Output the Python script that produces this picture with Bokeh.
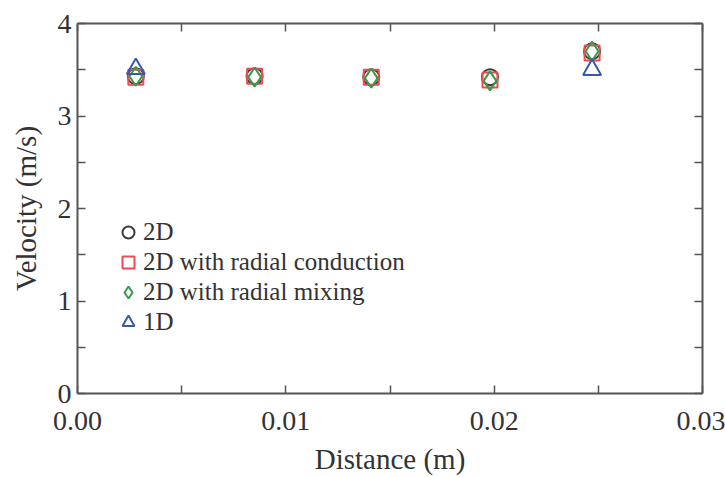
from bokeh.plotting import figure
from bokeh.models import (Range1d, FixedTicker, LinearAxis, PrintfTickFormatter,
                          Legend, LegendItem, CustomJSTickFormatter)
from bokeh.embed import file_html
from bokeh.resources import INLINE

# ---- data ----
distance = [0.0028, 0.0085, 0.0141, 0.0198, 0.0247]
v_2d = [3.43, 3.43, 3.42, 3.42, 3.70]
v_2d_cond = [3.42, 3.43, 3.42, 3.39, 3.68]
v_2d_mix = [3.43, 3.42, 3.41, 3.38, 3.70]
v_1d_dist = [0.0028, 0.0247]
v_1d_vals = [3.51, 3.50]

x_ticks = [0.0, 0.01, 0.02, 0.03]
x_minor = [0.005, 0.015, 0.025]
y_ticks = [0, 1, 2, 3, 4]
y_minor = [0.5, 1.5, 2.5, 3.5]

FONT = "Liberation Serif"
AX = "#555555"
TXT = "#333333"

p = figure(width=725, height=477, output_backend="svg", toolbar_location=None,
           x_range=Range1d(0, 0.03), y_range=Range1d(0, 4),
           min_border_left=77, min_border_right=23, min_border_top=23,
           min_border_bottom=79, x_axis_label="Distance (m)",
           y_axis_label="Velocity (m/s)")
p.grid.visible = False
p.outline_line_color = None
p.background_fill_color = "white"
p.border_fill_color = "white"

c_r = p.scatter(distance, v_2d, marker="circle", size=16, fill_color=None,
                line_color="#3c3c3c", line_width=2)
s_r = p.scatter(distance, v_2d_cond, marker="square", size=15, fill_color=None,
                line_color="#ee4b55", line_width=2)
d_r = p.scatter(distance, v_2d_mix, marker="diamond", size=19, fill_color=None,
                line_color="#3a9a48", line_width=2)
t_r = p.scatter(v_1d_dist, v_1d_vals, marker="triangle", size=18, fill_color=None,
                line_color="#3a58b0", line_width=2)

def style(ax):
    ax.axis_line_color = AX
    ax.axis_line_width = 2
    ax.major_tick_line_color = AX
    ax.minor_tick_line_color = AX
    ax.major_tick_line_width = 1.5
    ax.minor_tick_line_width = 1.5
    ax.major_tick_in = 8
    ax.major_tick_out = 0
    ax.minor_tick_in = 8
    ax.minor_tick_out = 0
    ax.major_label_text_font = FONT
    ax.major_label_text_color = TXT
    ax.axis_label_text_font = FONT
    ax.axis_label_text_font_style = "normal"
    ax.axis_label_text_color = TXT

xa = p.xaxis[0]
xa.ticker = FixedTicker(ticks=x_ticks, minor_ticks=x_minor)
xa.formatter = PrintfTickFormatter(format="%.2f")
style(xa)
xa.major_label_text_font_size = "28px"
xa.major_label_standoff = 18
xa.axis_label_text_font_size = "29px"
xa.axis_label_standoff = 10

ya = p.yaxis[0]
ya.ticker = FixedTicker(ticks=y_ticks, minor_ticks=y_minor)
style(ya)
ya.major_label_text_font_size = "28px"
ya.major_label_standoff = 6
ya.axis_label_text_font_size = "29px"
ya.axis_label_standoff = 13

blank = CustomJSTickFormatter(code="return '';")
top = LinearAxis(ticker=FixedTicker(ticks=x_ticks, minor_ticks=x_minor),
                 formatter=blank)
style(top)
top.major_label_standoff = 0
p.add_layout(top, "above")
right = LinearAxis(ticker=FixedTicker(ticks=y_ticks, minor_ticks=y_minor),
                   formatter=blank)
style(right)
right.major_label_standoff = 0
p.add_layout(right, "right")

legend = Legend(items=[
    LegendItem(label="2D", renderers=[c_r]),
    LegendItem(label="2D with radial conduction", renderers=[s_r]),
    LegendItem(label="2D with radial mixing", renderers=[d_r]),
    LegendItem(label="1D", renderers=[t_r]),
], location=(36, 56))
legend.border_line_color = None
legend.background_fill_alpha = 0
legend.padding = 0
legend.margin = 0
legend.spacing = 0
legend.glyph_width = 30
legend.glyph_height = 30
legend.label_height = 30
legend.label_standoff = 0
legend.label_text_font = FONT
legend.label_text_font_size = "25px"
legend.label_text_color = TXT
p.add_layout(legend, "center")

open("out.html", "w").write(file_html(p, INLINE))
